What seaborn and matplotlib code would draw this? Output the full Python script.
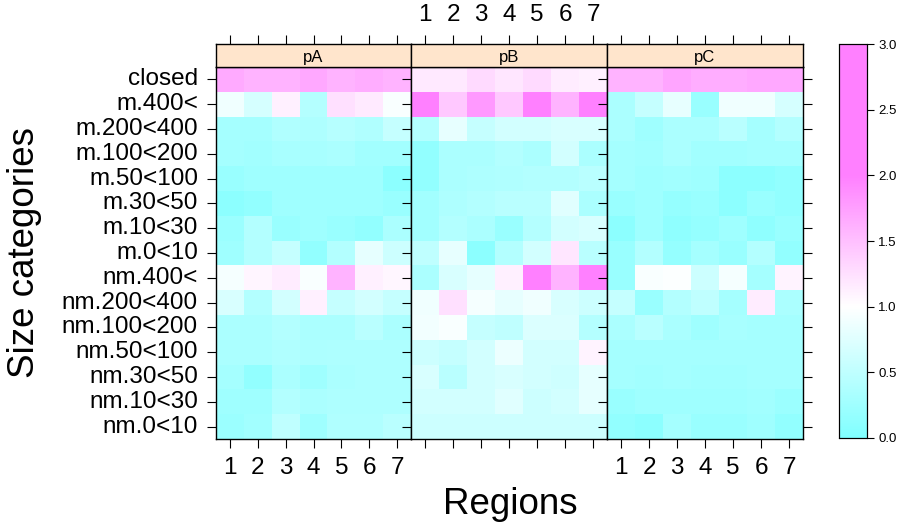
import numpy as np
import pandas as pd
import matplotlib
matplotlib.use("Agg")
import matplotlib.pyplot as plt
from matplotlib.colors import LinearSegmentedColormap
import seaborn as sns

# Size categories (top to bottom) and regions
categories = ["closed", "m.400<", "m.200<400", "m.100<200", "m.50<100", "m.30<50",
              "m.10<30", "m.0<10", "nm.400<", "nm.200<400", "nm.100<200",
              "nm.50<100", "nm.30<50", "nm.10<30", "nm.0<10"]
regions = [1, 2, 3, 4, 5, 6, 7]
panels = ["pA", "pB", "pC"]

pA_vals = [
    [1.67, 1.60, 1.60, 1.68, 1.60, 1.65, 1.60],
    [0.88, 0.67, 1.12, 0.42, 1.25, 1.17, 0.96],
    [0.30, 0.30, 0.38, 0.37, 0.43, 0.38, 0.55],
    [0.30, 0.27, 0.32, 0.32, 0.35, 0.27, 0.27],
    [0.20, 0.25, 0.25, 0.25, 0.25, 0.25, 0.10],
    [0.10, 0.15, 0.25, 0.25, 0.25, 0.25, 0.20],
    [0.22, 0.40, 0.20, 0.25, 0.20, 0.15, 0.35],
    [0.25, 0.40, 0.55, 0.15, 0.40, 0.80, 0.60],
    [0.92, 1.08, 1.15, 0.96, 1.60, 1.12, 1.07],
    [0.70, 0.40, 0.65, 1.12, 0.55, 0.65, 0.55],
    [0.35, 0.35, 0.40, 0.35, 0.35, 0.45, 0.35],
    [0.35, 0.35, 0.38, 0.36, 0.37, 0.37, 0.37],
    [0.30, 0.15, 0.35, 0.25, 0.35, 0.37, 0.37],
    [0.25, 0.25, 0.40, 0.35, 0.37, 0.37, 0.37],
    [0.22, 0.28, 0.50, 0.25, 0.38, 0.38, 0.45],
]
pB_vals = [
    [1.18, 1.18, 1.30, 1.20, 1.30, 1.15, 1.12],
    [2.20, 1.43, 1.80, 1.43, 2.30, 1.60, 2.40],
    [0.42, 0.82, 0.55, 0.65, 0.65, 0.70, 0.70],
    [0.15, 0.35, 0.35, 0.40, 0.35, 0.65, 0.35],
    [0.15, 0.35, 0.37, 0.38, 0.40, 0.40, 0.45],
    [0.28, 0.37, 0.40, 0.45, 0.45, 0.75, 0.35],
    [0.28, 0.40, 0.35, 0.20, 0.42, 0.65, 0.70],
    [0.50, 0.82, 0.10, 0.40, 0.65, 1.20, 0.45],
    [0.35, 0.70, 0.80, 1.12, 2.30, 1.60, 2.40],
    [0.88, 1.25, 0.92, 0.82, 0.88, 0.70, 0.60],
    [0.90, 0.96, 0.55, 0.50, 0.72, 0.72, 0.42],
    [0.60, 0.55, 0.65, 0.85, 0.65, 0.65, 1.10],
    [0.70, 0.45, 0.65, 0.70, 0.65, 0.62, 0.80],
    [0.65, 0.65, 0.65, 0.75, 0.60, 0.65, 0.80],
    [0.60, 0.60, 0.60, 0.60, 0.60, 0.60, 0.60],
]
pC_vals = [
    [1.60, 1.60, 1.70, 1.65, 1.65, 1.68, 1.68],
    [0.35, 0.55, 0.82, 0.20, 0.88, 0.88, 0.67],
    [0.35, 0.25, 0.35, 0.35, 0.45, 0.30, 0.40],
    [0.30, 0.27, 0.35, 0.27, 0.27, 0.30, 0.30],
    [0.30, 0.25, 0.28, 0.25, 0.10, 0.10, 0.15],
    [0.20, 0.25, 0.17, 0.20, 0.10, 0.20, 0.15],
    [0.10, 0.25, 0.12, 0.17, 0.25, 0.12, 0.20],
    [0.20, 0.40, 0.17, 0.30, 0.20, 0.40, 0.15],
    [0.20, 0.96, 0.98, 0.60, 0.92, 0.30, 1.10],
    [0.55, 0.20, 0.40, 0.50, 0.30, 1.15, 0.35],
    [0.35, 0.45, 0.33, 0.25, 0.32, 0.30, 0.30],
    [0.30, 0.30, 0.30, 0.30, 0.30, 0.30, 0.30],
    [0.30, 0.28, 0.30, 0.28, 0.28, 0.30, 0.30],
    [0.20, 0.25, 0.25, 0.25, 0.25, 0.27, 0.22],
    [0.15, 0.10, 0.30, 0.20, 0.20, 0.25, 0.15],
]
colorbar_ticks = [0.0, 0.5, 1.0, 1.5, 2.0, 2.5, 3.0]

# cm.colors style ramp, flat above 2
cmap = LinearSegmentedColormap.from_list(
    "cmcol", [(0.0, "#80FFFF"), (1 / 3, "#FFFFFF"), (2 / 3, "#FF80FF"), (1.0, "#FF80FF")])

W, H = 906, 528
fig = plt.figure(figsize=(W / 100, H / 100), dpi=100)
plt.rcParams["font.family"] = ["Liberation Sans", "DejaVu Sans"]


def px_axes(x0, y0, x1, y1):
    return fig.add_axes([x0 / W, 1 - y1 / H, (x1 - x0) / W, (y1 - y0) / H])


panel_x = [216, 411, 607, 803]
strip_top, panel_top, panel_bot = 44, 67, 439
cbar_ax = px_axes(839, 44, 867, 438)
TICK = dict(direction="out", length=6.5, width=0.8, labelsize=17.5, pad=6.5)

for i, (name, vals) in enumerate(zip(panels, [pA_vals, pB_vals, pC_vals])):
    df = pd.DataFrame(vals, index=categories, columns=regions)
    ax = px_axes(panel_x[i], panel_top, panel_x[i + 1], panel_bot)
    sns.heatmap(df, ax=ax, cmap=cmap, vmin=0, vmax=3,
                cbar=(i == 0), cbar_ax=cbar_ax if i == 0 else None)
    ax.set_xlabel("")
    ax.set_ylabel("")
    for s in ax.spines.values():
        s.set_visible(True)
        s.set_color("black")
        s.set_linewidth(1)
    ax.tick_params(axis="both", **TICK)
    ax.tick_params(axis="y", left=True, right=(i == 2),
                   labelleft=(i == 0), labelright=False)
    ax.tick_params(axis="x", bottom=True, labelbottom=(i != 1), labelrotation=0)
    if i == 0:
        ax.set_yticklabels(categories, rotation=0)

    # strip above panel
    sax = px_axes(panel_x[i], strip_top, panel_x[i + 1], panel_top)
    sax.set_facecolor("#FFE5CC")
    sax.set_xlim(ax.get_xlim())
    sax.set_ylim(0, 1)
    sax.set_yticks([])
    sax.set_xticks(np.arange(len(regions)) + 0.5)
    sax.set_xticklabels([str(r) for r in regions])
    sax.tick_params(axis="x", top=True, bottom=False, labeltop=(i == 1),
                    labelbottom=False, **TICK)
    for s in sax.spines.values():
        s.set_color("black")
        s.set_linewidth(1)
    sax.text(0.5, 0.42, name, transform=sax.transAxes, ha="center", va="center",
             fontsize=12)

cbar_ax.set_yticks(colorbar_ticks)
cbar_ax.set_yticklabels([f"{t:.1f}" for t in colorbar_ticks])
cbar_ax.tick_params(axis="y", direction="out", length=5, width=0.8, labelsize=9.5, pad=3)
for s in cbar_ax.spines.values():
    s.set_visible(True)
    s.set_color("black")
    s.set_linewidth(0.8)

fig.text(25 / W, 1 - 252 / H, "Size categories", rotation=90, ha="center",
         va="center", fontsize=26.5)
fig.text(510 / W, 1 - 505 / H, "Regions", ha="center", va="center", fontsize=26.5)

fig.savefig("out.png", dpi=100)
